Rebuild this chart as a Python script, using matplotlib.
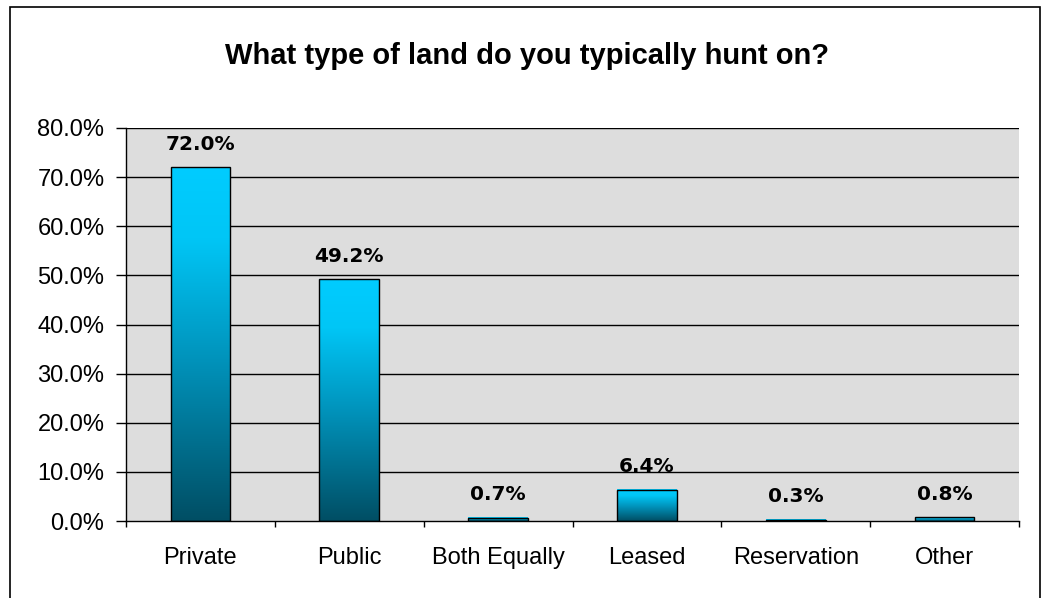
import numpy as np
import matplotlib
matplotlib.use('Agg')
import matplotlib.pyplot as plt
from matplotlib.colors import LinearSegmentedColormap
from matplotlib.patches import Rectangle
from matplotlib.ticker import FuncFormatter

categories = ['Private', 'Public', 'Both Equally', 'Leased', 'Reservation', 'Other']
values = [72.0, 49.2, 0.7, 6.4, 0.3, 0.8]
yticks = [0, 10, 20, 30, 40, 50, 60, 70, 80]

# excel-like gradient: dark teal at the bottom, cyan at the top
cmap = LinearSegmentedColormap.from_list(
    'excel', [(0.0, '#004E64'), (0.45, '#0092BA'), (0.8, '#00C6F6'), (1.0, '#00CCFF')])

fig = plt.figure(figsize=(10.41, 5.98), dpi=100)
fig.patch.set_facecolor('white')
# outer chart frame
fig.add_artist(Rectangle((10 / 1041, -0.1), 1030 / 1041, (598 - 7) / 598 + 0.1,
                         transform=fig.transFigure, fill=False, edgecolor='black', lw=1.2))

ax = fig.add_axes([126 / 1041, 1 - 521 / 598, (1019 - 126) / 1041, (521 - 128) / 598])
ax.set_facecolor('#DDDDDD')

for y in yticks[1:]:
    ax.axhline(y, color='black', lw=1.0, zorder=1)

width = 0.4
grad = np.linspace(0, 1, 256).reshape(-1, 1)
for i, v in enumerate(values):
    x0 = i + 0.5 - width / 2
    ax.imshow(grad, cmap=cmap, origin='lower', aspect='auto',
              extent=[x0, x0 + width, 0, v], zorder=2)
    ax.add_patch(Rectangle((x0, 0), width, v, fill=False, edgecolor='black', lw=1.0, zorder=3))
    ax.annotate('%.1f%%' % v, (i + 0.5, v), xytext=(0, 16.5), textcoords='offset points',
                ha='center', va='center', fontsize=14.5, fontweight='bold',
                family='DejaVu Sans', zorder=4)

ax.set_xlim(0, len(categories))
ax.set_ylim(0, 80)

ax.set_yticks(yticks)
ax.yaxis.set_major_formatter(FuncFormatter(lambda y, _: '%.1f%%' % y))
ax.set_xticks(np.arange(len(categories) + 1))
ax.set_xticklabels([])
ax.set_xticks(np.arange(len(categories)) + 0.5, minor=True)
ax.set_xticklabels(categories, minor=True)
ax.tick_params(axis='x', which='minor', length=0, pad=19, labelsize=17)
ax.tick_params(axis='x', which='major', length=4.5, width=1, direction='out')
ax.tick_params(axis='y', length=7, width=1, direction='out', labelsize=17, pad=8.5)
for lab in ax.get_xticklabels(minor=True) + ax.get_yticklabels():
    lab.set_family('Liberation Sans')

for s in ['top', 'right']:
    ax.spines[s].set_visible(False)
ax.spines['left'].set_linewidth(1.0)
ax.spines['bottom'].set_linewidth(1.0)

fig.text(527 / 1041, 1 - 64 / 598, 'What type of land do you typically hunt on?',
         ha='center', va='baseline', fontsize=21, fontweight='bold', family='Liberation Sans')

fig.savefig('out.png', dpi=100)
